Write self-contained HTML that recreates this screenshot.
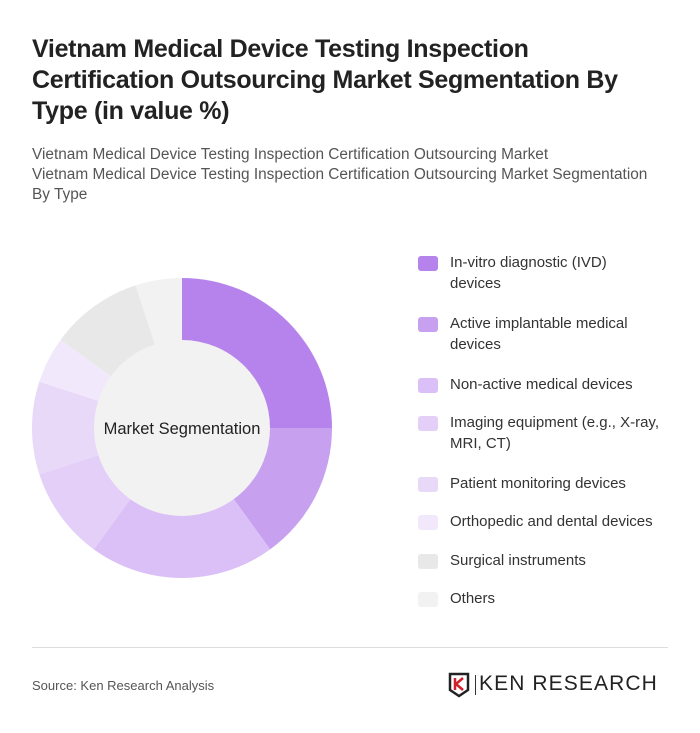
<!DOCTYPE html>
<html><head><meta charset="utf-8"><style>
body{margin:0;background:#fff;font-family:"Liberation Sans",sans-serif;}
.card{position:relative;width:700px;height:733px;overflow:hidden;}
h1{position:absolute;left:32px;top:34px;margin:0;font-size:25px;line-height:31px;font-weight:bold;color:#222;width:610px;letter-spacing:-0.3px}
.sub{position:absolute;left:32px;top:145px;font-size:15.4px;line-height:20px;color:#555;width:640px}
.leg{position:absolute;left:418px;font-size:15px;line-height:21px;color:#333}
.sw{position:absolute;left:0;top:3px;width:20px;height:15px;border-radius:3px}
.lt{position:absolute;left:32px;width:260px;white-space:nowrap}
.hr{position:absolute;left:32px;top:647px;width:636px;height:1px;background:#ddd}
.src{position:absolute;left:32px;top:678px;font-size:13px;color:#555}
</style></head><body>
<div class="card">
<h1>Vietnam Medical Device Testing Inspection Certification Outsourcing Market Segmentation By Type (in value %)</h1>
<div class="sub">Vietnam Medical Device Testing Inspection Certification Outsourcing Market<br>Vietnam Medical Device Testing Inspection Certification Outsourcing Market Segmentation<br>By Type</div>
<svg id="donut" width="700" height="733" style="position:absolute;left:0;top:0"></svg>
<div id="legend"></div>
<div class="hr"></div>
<div class="src">Source: Ken Research Analysis</div>
<div style="position:absolute;left:448px;top:672px;width:222px;height:26px">
<svg width="24" height="26" style="position:absolute;left:0;top:0"><path d="M2 2h18v16l-9 6-9-6z" fill="none" stroke="#222" stroke-width="2.5"/><path d="M7 6v12M8 12l7-6M8 12l7 6" stroke="#d0202a" stroke-width="2.5" fill="none"/></svg>
<div style="position:absolute;left:27px;top:3px;width:1px;height:20px;background:#333"></div>
<div style="position:absolute;left:31px;top:0px;font-size:21px;letter-spacing:1.1px;color:#222;white-space:nowrap">KEN RESEARCH</div>
</div>
</div>
<script>
const labels=["In-vitro diagnostic (IVD)<br>devices","Active implantable medical<br>devices","Non-active medical devices","Imaging equipment (e.g., X-ray,<br>MRI, CT)","Patient monitoring devices","Orthopedic and dental devices","Surgical instruments","Others"];
const values=[25,15,20,10,10,5,10,5];
const colors=["#b683ec","#c7a0f0","#dac0f6","#e3cff8","#e8d9f9","#f1e8fc","#e8e8e8","#f2f2f2"];
const svg=document.getElementById('donut');const NS="http://www.w3.org/2000/svg";
const cx=182,cy=428,R=150,r=88;
const total=values.reduce((a,b)=>a+b,0);
let a0=0;
function pt(a,rad){return [cx+rad*Math.sin(a),cy-rad*Math.cos(a)];}
values.forEach((v,i)=>{
 const a1=a0+v/total*2*Math.PI;
 const [x0,y0]=pt(a0,R),[x1,y1]=pt(a1,R);
 const lg=(a1-a0)>Math.PI?1:0;
 const p=document.createElementNS(NS,'path');
 p.setAttribute('d',`M${cx} ${cy}L${x0} ${y0}A${R} ${R} 0 ${lg} 1 ${x1} ${y1}Z`);
 p.setAttribute('fill',colors[i]);
 
 
 svg.appendChild(p);a0=a1;
});
const c=document.createElementNS(NS,'circle');
c.setAttribute('cx',cx);c.setAttribute('cy',cy);c.setAttribute('r',r);c.setAttribute('fill','#f2f2f2');


svg.appendChild(c);
const t=document.createElementNS(NS,'text');
t.setAttribute('x',cx);t.setAttribute('y',cy+6);t.setAttribute('text-anchor','middle');t.setAttribute('font-size','16.5');t.setAttribute('fill','#222');t.setAttribute('font-family','Liberation Sans, sans-serif');
t.textContent='Market Segmentation';


svg.appendChild(t);
const tops=[252,313,374,412,473,511,550,588];
const lg=document.getElementById('legend');
labels.forEach((l,i)=>{
 const d=document.createElement('div');d.className='leg';d.style.top=tops[i]+'px';
 
 
 d.innerHTML=`<div class="sw" style="background:${colors[i]};top:${4}px"></div><div class="lt">${l}</div>`;
 lg.appendChild(d);
});
</script>
</body></html>
